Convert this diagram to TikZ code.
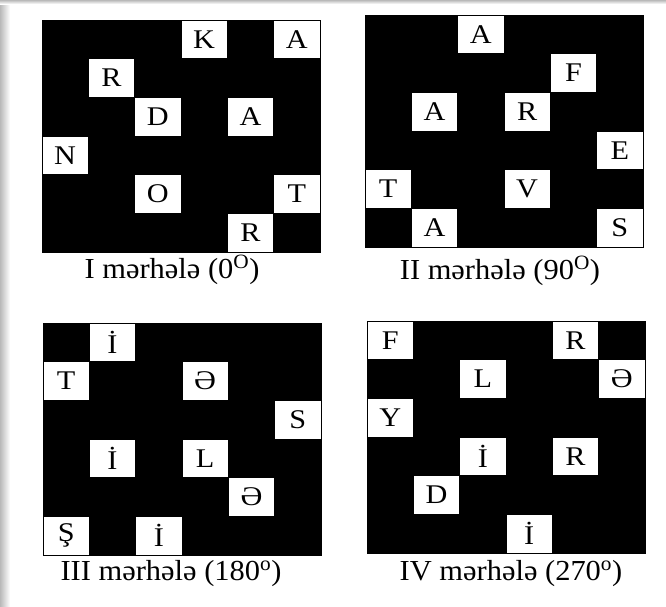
\documentclass[tikz,border=0pt]{standalone}
\usepackage{fontspec}
\setmainfont{Liberation Serif}
\newfontfamily\cellfont[FakeStretch=1.12]{Liberation Serif}
\newfontfamily\capfont[FakeStretch=1.05]{Liberation Serif}
\usetikzlibrary{positioning}
\tikzset{
  board/.style={fill=black,draw=black,minimum width=278pt,minimum height=232pt,
    inner sep=0pt,anchor=north west},
  cell/.style={fill=white,draw=black,line width=0.6pt,minimum width=46.3pt,
    minimum height=38.7pt,inner sep=0pt,font=\cellfont\fontsize{27}{29}\selectfont},
  caption/.style={anchor=base,inner sep=0pt,font=\capfont\fontsize{29}{32}\selectfont},
}
\newcommand{\cw}{46.33}
\newcommand{\rh}{38.67}

\begin{document}
\begin{tikzpicture}[x=1pt,y=-1pt]
  \useasboundingbox (0,0) rectangle (666,606);
  % page edge shadow
  \shade[left color=gray!55,right color=white] (0,0) rectangle (10,606);
  \shade[top color=gray!55,bottom color=white] (0,0) rectangle (666,4);

  % stage I
  \node[board] (b1) at (42,20) {};
  \begin{scope}[shift={(42,20)},name prefix=s1-]
    \foreach \c/\r/\t [count=\i] in {3/0/K,5/0/A,1/1/R,2/2/D,4/2/A,0/3/N,2/4/O,5/4/T,4/5/R}
      \node[cell] (c\i) at ({(\c+0.5)*\cw},{(\r+0.5)*\rh}) {\t};
  \end{scope}
  \node[caption] (t1) at (172,278) {I mərhələ (0\textsuperscript{O})};

  % stage II
  \node[board] (b2) at (365,15) {};
  \begin{scope}[shift={(365,15)},name prefix=s2-]
    \foreach \c/\r/\t [count=\i] in {2/0/A,4/1/F,1/2/A,3/2/R,5/3/E,0/4/T,3/4/V,1/5/A,5/5/S}
      \node[cell] (c\i) at ({(\c+0.5)*\cw},{(\r+0.5)*\rh}) {\t};
  \end{scope}
  \node[caption] (t2) at (500,279) {II mərhələ (90\textsuperscript{O})};

  % stage III
  \node[board] (b3) at (43,323) {};
  \begin{scope}[shift={(43,323)},name prefix=s3-]
    \foreach \c/\r/\t [count=\i] in {1/0/İ,0/1/T,3/1/Ə,5/2/S,1/3/İ,3/3/L,4/4/Ə,0/5/Ş,2/5/İ}
      \node[cell] (c\i) at ({(\c+0.5)*\cw},{(\r+0.5)*\rh}) {\t};
  \end{scope}
  \node[caption] (t3) at (171,580) {III mərhələ (180\textsuperscript{o})};

  % stage IV
  \node[board] (b4) at (367,321) {};
  \begin{scope}[shift={(367,321)},name prefix=s4-]
    \foreach \c/\r/\t [count=\i] in {0/0/F,4/0/R,2/1/L,5/1/Ə,0/2/Y,2/3/İ,4/3/R,1/4/D,3/5/İ}
      \node[cell] (c\i) at ({(\c+0.5)*\cw},{(\r+0.5)*\rh}) {\t};
  \end{scope}
  \node[caption] (t4) at (511,580) {IV mərhələ (270\textsuperscript{o})};
\end{tikzpicture}
\end{document}
